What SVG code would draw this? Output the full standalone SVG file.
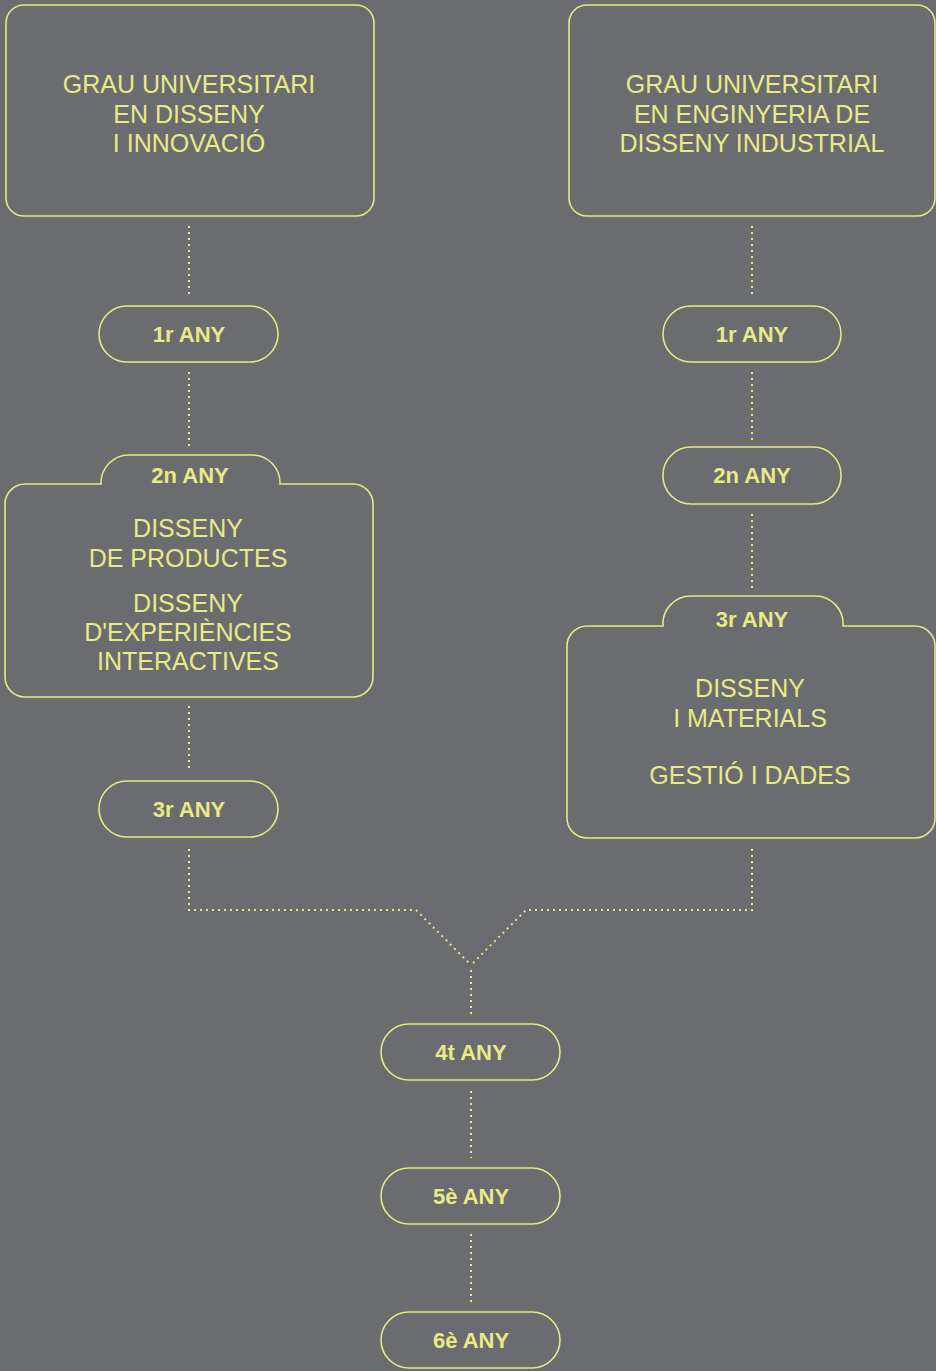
<svg xmlns="http://www.w3.org/2000/svg" width="936" height="1371" viewBox="0 0 936 1371">
<style>
.bg{fill:#6b6c70}
.box{fill:none;stroke:#e6e884;stroke-width:1.6}
.t{font-family:"Liberation Sans",Arial,sans-serif;font-size:25px;fill:#e8ea86;text-anchor:middle;letter-spacing:0}
.b{font-family:"Liberation Sans",Arial,sans-serif;font-size:22px;font-weight:bold;fill:#e8ea86;text-anchor:middle}
.c{fill:none;stroke:#e6e884;stroke-width:2;stroke-dasharray:2 4}
</style>
<rect class="bg" x="0" y="0" width="936" height="1371"/>
<g id="connectors">
<line class="c" x1="189" y1="226" x2="189" y2="298"/>
<line class="c" x1="189" y1="372" x2="189" y2="446"/>
<line class="c" x1="189" y1="706" x2="189" y2="772"/>
<line class="c" x1="752" y1="226" x2="752" y2="298"/>
<line class="c" x1="752" y1="372" x2="752" y2="440"/>
<line class="c" x1="752" y1="514" x2="752" y2="588"/>
<polyline class="c" points="189,849 189,910 416,910 470,964"/>
<polyline class="c" points="752,849 752,910 526,910 472,964"/>
<line class="c" x1="471" y1="970" x2="471" y2="1014"/>
<line class="c" x1="471" y1="1091" x2="471" y2="1158"/>
<line class="c" x1="471" y1="1234" x2="471" y2="1302"/>
</g>
<g id="grau-disseny">
<rect class="box" x="6" y="5" width="368" height="211" rx="18"/>
<text class="t" x="189" y="93">GRAU UNIVERSITARI</text>
<text class="t" x="189" y="123">EN DISSENY</text>
<text class="t" x="189" y="152">I INNOVACIÓ</text>
</g>
<g id="grau-enginyeria">
<rect class="box" x="569" y="5" width="366" height="211" rx="18"/>
<text class="t" x="752" y="93">GRAU UNIVERSITARI</text>
<text class="t" x="752" y="123">EN ENGINYERIA DE</text>
<text class="t" x="752" y="152">DISSENY INDUSTRIAL</text>
</g>
<g id="l-1r">
<rect class="box" x="99" y="306" width="179" height="56" rx="28"/>
<text class="b" x="189" y="342">1r ANY</text>
</g>
<g id="l-2n">
<path class="box" d="M5,504 A20,20 0 0 1 25,484 L101,484 A28,28 0 0 1 129,455 L252,455 A28,28 0 0 1 280,484 L353,484 A20,20 0 0 1 373,504 L373,677 A20,20 0 0 1 353,697 L25,697 A20,20 0 0 1 5,677 Z"/>
<text class="b" x="190" y="483">2n ANY</text>
<text class="t" x="188" y="537">DISSENY</text>
<text class="t" x="188" y="567">DE PRODUCTES</text>
<text class="t" x="188" y="612">DISSENY</text>
<text class="t" x="188" y="641">D'EXPERIÈNCIES</text>
<text class="t" x="188" y="670">INTERACTIVES</text>
</g>
<g id="l-3r">
<rect class="box" x="99" y="781" width="179" height="56" rx="28"/>
<text class="b" x="189" y="817">3r ANY</text>
</g>
<g id="r-1r">
<rect class="box" x="663" y="306" width="178" height="56" rx="28"/>
<text class="b" x="752" y="342">1r ANY</text>
</g>
<g id="r-2n">
<rect class="box" x="663" y="447" width="178" height="57" rx="28"/>
<text class="b" x="752" y="483">2n ANY</text>
</g>
<g id="r-3r">
<path class="box" d="M567,646 A20,20 0 0 1 587,626 L663,626 A28,28 0 0 1 691,596 L815,596 A28,28 0 0 1 843,626 L915,626 A20,20 0 0 1 935,646 L935,818 A20,20 0 0 1 915,838 L587,838 A20,20 0 0 1 567,818 Z"/>
<text class="b" x="752" y="627">3r ANY</text>
<text class="t" x="750" y="697">DISSENY</text>
<text class="t" x="750" y="727">I MATERIALS</text>
<text class="t" x="750" y="784">GESTIÓ I DADES</text>
</g>
<g id="any-4t">
<rect class="box" x="381" y="1024" width="179" height="56" rx="28"/>
<text class="b" x="471" y="1060">4t ANY</text>
</g>
<g id="any-5e">
<rect class="box" x="381" y="1168" width="179" height="56" rx="28"/>
<text class="b" x="471" y="1204">5è ANY</text>
</g>
<g id="any-6e">
<rect class="box" x="381" y="1312" width="179" height="56" rx="28"/>
<text class="b" x="471" y="1348">6è ANY</text>
</g>
</svg>
